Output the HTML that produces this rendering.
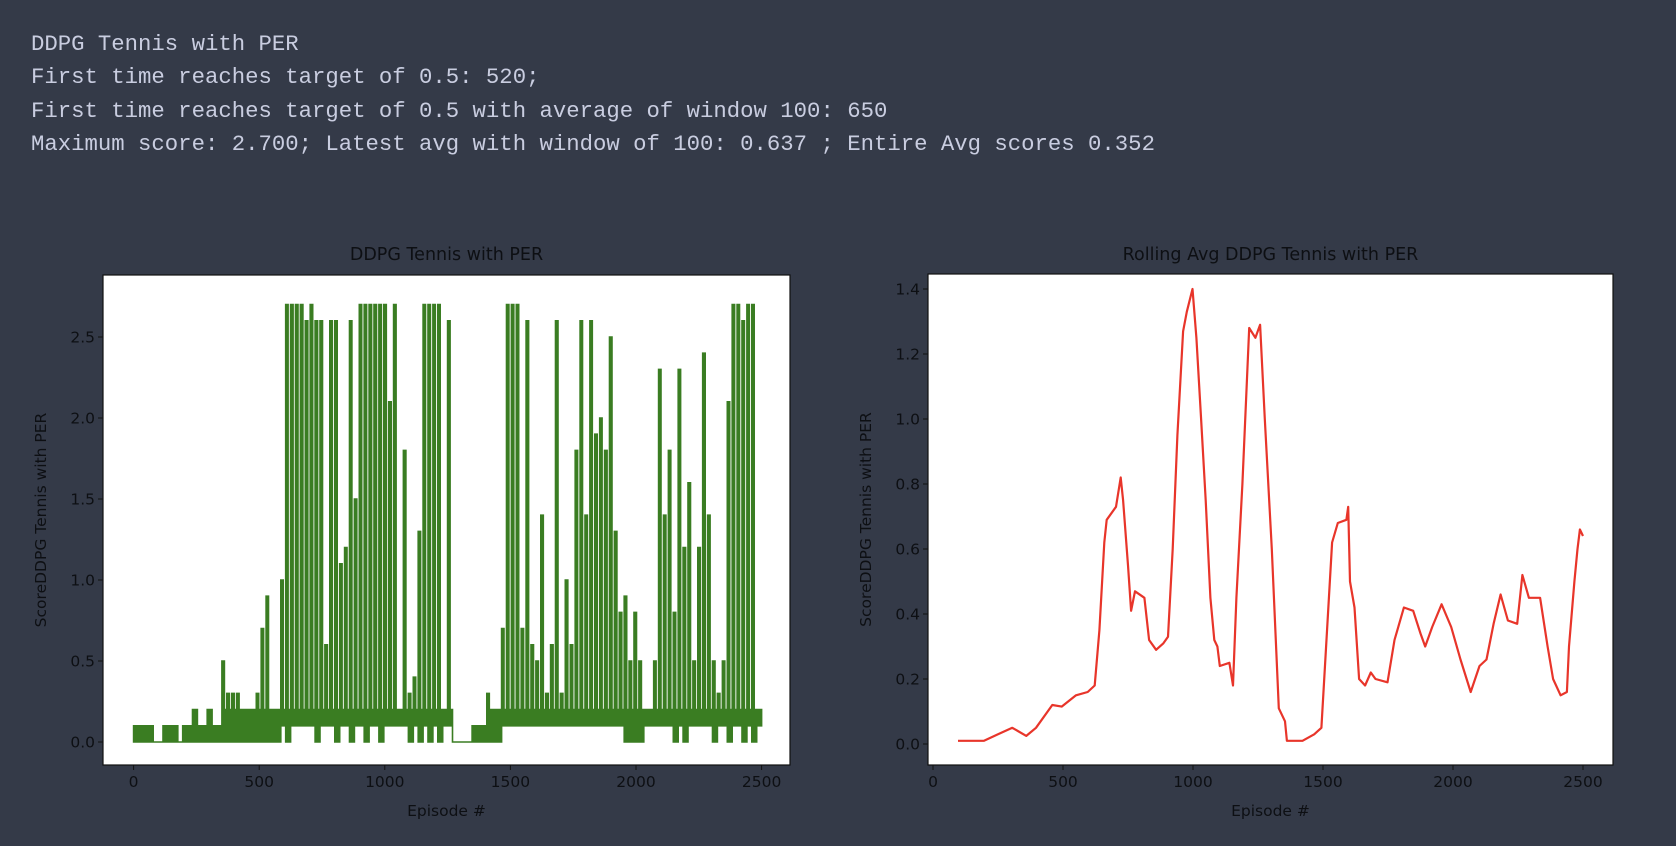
<!DOCTYPE html>
<html><head><meta charset="utf-8">
<style>
html,body{margin:0;padding:0;background:#343a48;}
body{width:1676px;height:846px;position:relative;overflow:hidden;}
.hdr{position:absolute;left:31px;font-family:"Liberation Mono",monospace;font-size:22.3px;color:#c9cde0;white-space:pre;line-height:1;}
svg text{font-family:"DejaVu Sans","Liberation Sans",sans-serif;fill:#0d0f13;}
</style></head>
<body>
<div class="hdr" style="top:33px">DDPG Tennis with PER</div>
<div class="hdr" style="top:66px">First time reaches target of 0.5: 520;</div>
<div class="hdr" style="top:100px">First time reaches target of 0.5 with average of window 100: 650</div>
<div class="hdr" style="top:133px">Maximum score: 2.700; Latest avg with window of 100: 0.637 ; Entire Avg scores 0.352</div>
<svg id="chart" width="1676" height="846" style="position:absolute;left:0;top:0"></svg>
<script>
// Left chart: per-bin max and min scores (129 bins spanning episodes 0..2500)
const scoreHi = [0.1,0.1,0.1,0.1,0,0,0.1,0.1,0.1,0,0.1,0.1,0.2,0.1,0.1,0.2,0.1,0.1,0.5,0.3,0.3,0.3,0.2,0.2,0.2,0.3,0.7,0.9,0.2,0.2,1.0,2.7,2.7,2.7,2.7,2.6,2.7,2.6,2.6,0.6,2.6,2.6,1.1,1.2,2.6,1.5,2.7,2.7,2.7,2.7,2.7,2.7,2.1,2.7,0.2,1.8,0.3,0.4,1.3,2.7,2.7,2.7,2.7,0.2,2.6,0,0,0,0,0.1,0.1,0.1,0.3,0.2,0.2,0.7,2.7,2.7,2.7,0.7,2.6,0.6,0.5,1.4,0.3,0.6,2.6,0.3,1.0,0.6,1.8,2.6,1.4,2.6,1.9,2.0,1.8,2.5,1.3,0.8,0.9,0.5,0.8,0.5,0.2,0.2,0.5,2.3,1.4,1.8,0.8,2.3,1.2,1.6,0.5,1.2,2.4,1.4,0.5,0.3,0.5,2.1,2.7,2.7,2.6,2.7,2.7,0.2,0.2];
const scoreLo = [0,0,0,0,0,0,0,0,0,0,0,0,0,0,0,0,0,0,0,0,0,0,0,0,0,0,0,0,0,0,0.1,0,0.1,0.1,0.1,0.1,0.1,0,0.1,0.1,0.1,0,0.1,0.1,0,0.1,0.1,0,0.1,0.1,0,0.1,0.1,0.1,0.1,0.1,0,0.1,0,0.1,0,0.1,0,0.1,0.1,0,0,0,0,0,0,0,0,0,0,0.1,0.1,0.1,0.1,0.1,0.1,0.1,0.1,0.1,0.1,0.1,0.1,0.1,0.1,0.1,0.1,0.1,0.1,0.1,0.1,0.1,0.1,0.1,0.1,0.1,0,0,0,0,0.1,0.1,0.1,0.1,0.1,0.1,0,0.1,0,0.1,0.1,0.1,0.1,0.1,0,0.1,0.1,0,0.1,0.1,0,0.1,0,0.1,0.1];
const leftXTicks = [0,500,1000,1500,2000,2500];
const leftYTicks = [0.0,0.5,1.0,1.5,2.0,2.5];
// Right chart: rolling average
const rollEp  = [96,196,250,305,359,396,459,495,550,595,622,640,659,668,704,722,731,750,762,777,813,831,858,886,904,922,940,962,976,998,1013,1031,1049,1067,1082,1094,1103,1140,1154,1167,1190,1216,1240,1258,1276,1303,1330,1354,1361,1421,1466,1494,1512,1535,1557,1590,1597,1604,1621,1639,1662,1684,1702,1748,1775,1811,1847,1875,1893,1920,1956,1993,2029,2068,2102,2129,2156,2183,2211,2247,2267,2292,2335,2364,2385,2414,2438,2446,2467,2479,2488,2500];
const rollVal = [0.01,0.01,0.03,0.05,0.025,0.05,0.12,0.115,0.15,0.16,0.18,0.35,0.62,0.69,0.73,0.82,0.75,0.55,0.41,0.47,0.45,0.32,0.29,0.31,0.33,0.6,0.95,1.27,1.33,1.40,1.25,1.0,0.75,0.45,0.32,0.3,0.24,0.25,0.18,0.45,0.8,1.28,1.25,1.29,1.0,0.6,0.11,0.07,0.01,0.01,0.03,0.05,0.3,0.62,0.68,0.69,0.73,0.5,0.42,0.2,0.18,0.22,0.2,0.19,0.32,0.42,0.41,0.34,0.3,0.36,0.43,0.36,0.26,0.16,0.24,0.26,0.37,0.46,0.38,0.37,0.52,0.45,0.45,0.3,0.2,0.15,0.16,0.3,0.5,0.6,0.66,0.64];
const rightXTicks = [0,500,1000,1500,2000,2500];
const rightYTicks = [0.0,0.2,0.4,0.6,0.8,1.0,1.2,1.4];

const NS='http://www.w3.org/2000/svg';
const svg=document.getElementById('chart');
function mk(tag,attrs,parent){const e=document.createElementNS(NS,tag);for(const k in attrs)e.setAttribute(k,attrs[k]);(parent||svg).appendChild(e);return e;}

const L={x0:103,x1:790,y0:275,y1:765};
const lx=ep=>133.6+ep*0.2512;
const ly=v=>742-v*162;
const R={x0:928,x1:1613,y0:274,y1:765};
const rx=ep=>933+ep*0.26;
const ry=v=>744-v*325;

function drawAxes(A,xs,ys,xt,yt,xfmt,yfmt,pref,title,ylab,ylx){
  const bg=mk('rect',{x:A.x0,y:A.y0,width:A.x1-A.x0,height:A.y1-A.y0,fill:'#ffffff'});
  
  
  xt.forEach(t=>{
    const x=xs(t);
    const tk=mk('line',{x1:x,x2:x,y1:A.y1,y2:A.y1+5,stroke:'#111','stroke-width':1});
    
    
    const tl=mk('text',{x:x,y:A.y1+22,'text-anchor':'middle','font-size':15.5});
    tl.textContent=xfmt(t);
    
    
  });
  yt.forEach(t=>{
    const y=ys(t);
    const tk=mk('line',{x1:A.x0-5,x2:A.x0,y1:y,y2:y,stroke:'#111','stroke-width':1});
    
    
    const tl=mk('text',{x:A.x0-8,y:y+5.5,'text-anchor':'end','font-size':15.5});
    tl.textContent=yfmt(t);
    
    
  });
  const tt=mk('text',{x:(A.x0+A.x1)/2,y:260,'text-anchor':'middle','font-size':17.5});
  tt.textContent=title;
  
  
  const xl=mk('text',{x:(A.x0+A.x1)/2,y:816,'text-anchor':'middle','font-size':15.5});
  xl.textContent='Episode #';
  
  
  const cy=(A.y0+A.y1)/2;
  const yl=mk('text',{x:ylx,y:cy,'text-anchor':'middle','font-size':15.5,transform:`rotate(-90 ${ylx} ${cy})`});
  yl.textContent=ylab;
  
  
}
function frame(A,pref){
  const f=mk('rect',{x:A.x0,y:A.y0,width:A.x1-A.x0,height:A.y1-A.y0,fill:'none',stroke:'#111','stroke-width':1.2});
  
  
}

drawAxes(L,lx,ly,leftXTicks,leftYTicks,t=>String(t),t=>t.toFixed(1),'left','DDPG Tennis with PER','ScoreDDPG Tennis with PER',46);
drawAxes(R,rx,ry,rightXTicks,rightYTicks,t=>String(t),t=>t.toFixed(1),'right','Rolling Avg DDPG Tennis with PER','ScoreDDPG Tennis with PER',871);

// green score series as filled band: top profile then bottom profile
const BIN=2500/(scoreHi.length-1);
const topPts=[], botPts=[];
scoreHi.forEach((h,i)=>{
  const e=i*BIN, lo=scoreLo[i], mid=Math.max(Math.min(h,0.2),lo);
  if(e>2500) return;
  const e1=Math.min(e+BIN*0.5,2500), e2=Math.min(e+BIN,2500);
  topPts.push([e,h],[e1,h],[e1,mid],[e2,mid]);
  botPts.push([e,lo],[e2,lo]);
});
const poly=topPts.concat(botPts.reverse());
const g=mk('polygon',{points:poly.map(p=>lx(p[0]).toFixed(1)+','+ly(p[1]).toFixed(1)).join(' '),fill:'#3a7d22',stroke:'#3a7d22','stroke-width':1.6,'stroke-linejoin':'miter'});



const r=mk('polyline',{points:rollEp.map((e,i)=>rx(e).toFixed(1)+','+ry(rollVal[i]).toFixed(1)).join(' '),fill:'none',stroke:'#e8352a','stroke-width':2.2,'stroke-linejoin':'round'});



frame(L,'left');
frame(R,'right');
</script>
</body></html>
